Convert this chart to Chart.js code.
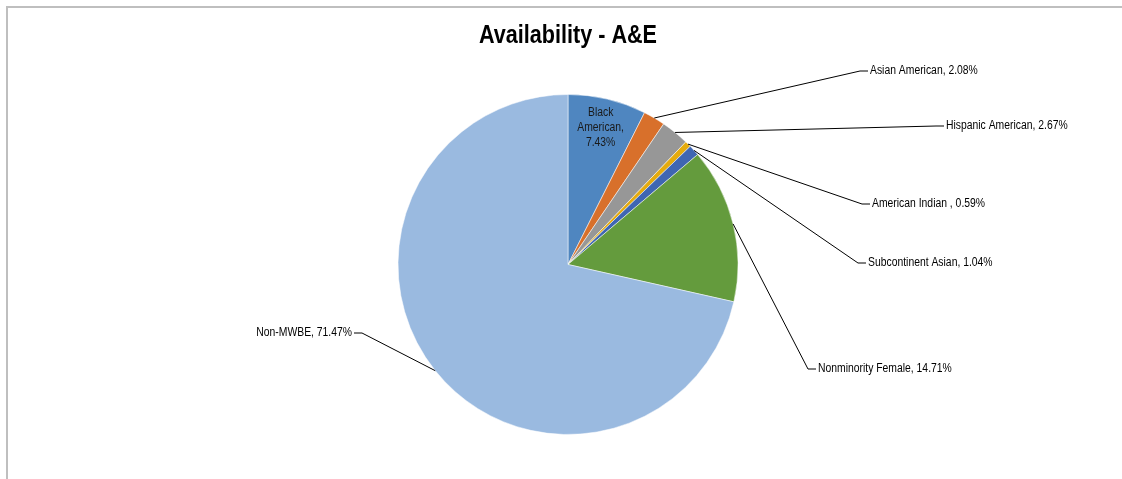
<!DOCTYPE html>
<html>
<head>
<meta charset="utf-8">
<script src="https://cdn.jsdelivr.net/npm/chart.js@4/dist/chart.umd.min.js"></script>
<style>
  html, body { margin: 0; padding: 0; background: #fff; }
  #wrap { position: relative; width: 1122px; height: 479px; }
</style>
</head>
<body>
<div id="wrap"><canvas id="pieChart"></canvas></div>
<script>
const categorias = ['Black American', 'Asian American', 'Hispanic American', 'American Indian ', 'Subcontinent Asian', 'Nonminority Female', 'Non-MWBE'];
const valores = [7.43, 2.08, 2.67, 0.59, 1.04, 14.71, 71.47];
const cores = ['#4f86c0', '#d8702b', '#979797', '#e5ab0e', '#3f66b2', '#649b3d', '#9abae0'];

// where each label sits (text start, or text end for left side); null = inside the slice
const posRotulos = [
    null,
    { x: 870, y: 71, lado: 'right' },
    { x: 946, y: 126, lado: 'right' },
    { x: 872, y: 204, lado: 'right' },
    { x: 868, y: 263, lado: 'right' },
    { x: 818, y: 369, lado: 'right' },
    { x: 352, y: 333, lado: 'left' }
];

const fonteRotulo = '12.5px "Liberation Sans", Arial, sans-serif';
const fonteTitulo = 'bold 26px "Liberation Sans", Arial, sans-serif';
const estreito = 0.83; // squeeze text horizontally, narrow-font look

function textoEstreito(ctx, t, x, y, align) {
    ctx.save();
    ctx.translate(x, y);
    ctx.scale(estreito, 1);
    ctx.textAlign = align;
    ctx.fillText(t, 0, 0);
    ctx.restore();
}

const moldura = {
    id: 'moldura',
    beforeDraw(chart) {
        const ctx = chart.ctx;
        ctx.save();
        ctx.fillStyle = '#fff';
        ctx.fillRect(0, 0, chart.width, chart.height);
        ctx.strokeStyle = '#bfbfbf';
        ctx.lineWidth = 2;
        ctx.beginPath();
        ctx.moveTo(7, chart.height);
        ctx.lineTo(7, 7);
        ctx.lineTo(chart.width, 7);
        ctx.stroke();
        ctx.restore();
    }
};

const titulo = {
    id: 'titulo',
    afterDraw(chart) {
        const ctx = chart.ctx;
        ctx.save();
        ctx.font = fonteTitulo;
        ctx.fillStyle = '#000';
        ctx.textBaseline = 'alphabetic';
        textoEstreito(ctx, 'Availability - A&E', 568, 43, 'center');
        ctx.restore();
    }
};

const rotulos = {
    id: 'rotulos',
    afterDatasetsDraw(chart) {
        const ctx = chart.ctx;
        const arcos = chart.getDatasetMeta(0).data;
        ctx.save();
        ctx.font = fonteRotulo;
        ctx.fillStyle = '#000';
        ctx.strokeStyle = '#000';
        ctx.lineWidth = 1;
        ctx.textBaseline = 'middle';
        arcos.forEach((arco, i) => {
            const p = arco.getProps(['x', 'y', 'startAngle', 'endAngle', 'outerRadius'], true);
            const meio = (p.startAngle + p.endAngle) / 2;
            const texto = categorias[i] + ', ' + valores[i].toFixed(2) + '%';
            const pos = posRotulos[i];
            if (!pos) {
                const r = p.outerRadius * 0.83;
                const cx = p.x + r * Math.cos(meio);
                const cy = p.y + r * Math.sin(meio);
                ctx.fillStyle = '#1a1a1a';
                ['Black', 'American,', valores[i].toFixed(2) + '%'].forEach((t, k) => {
                    textoEstreito(ctx, t, cx, cy + (k - 1) * 15, 'center');
                });
                ctx.fillStyle = '#000';
                return;
            }
            const ax = p.x + p.outerRadius * Math.cos(meio);
            const ay = p.y + p.outerRadius * Math.sin(meio);
            const dir = pos.lado === 'right' ? -1 : 1;
            const cotoveloX = pos.x + dir * 10;
            ctx.beginPath();
            ctx.moveTo(ax, ay);
            ctx.lineTo(cotoveloX, pos.y);
            ctx.lineTo(pos.x + dir * 2, pos.y);
            ctx.stroke();
            textoEstreito(ctx, texto, pos.x, pos.y, pos.lado === 'right' ? 'left' : 'right');
        });
        ctx.restore();
    }
};

new Chart(document.getElementById('pieChart'), {
    type: 'pie',
    data: {
        labels: categorias,
        datasets: [{
            data: valores,
            backgroundColor: cores,
            borderColor: 'rgba(255, 255, 255, 0.5)',
            borderWidth: 1,
            hoverOffset: 0
        }]
    },
    options: {
        responsive: true,
        maintainAspectRatio: false,
        animation: false,
        layout: { padding: { top: 94, bottom: 44, left: 14, right: 0 } },
        plugins: {
            legend: { display: false },
            tooltip: { enabled: false },
            title: { display: false }
        }
    },
    plugins: [moldura, rotulos, titulo]
});
</script>
</body>
</html>
